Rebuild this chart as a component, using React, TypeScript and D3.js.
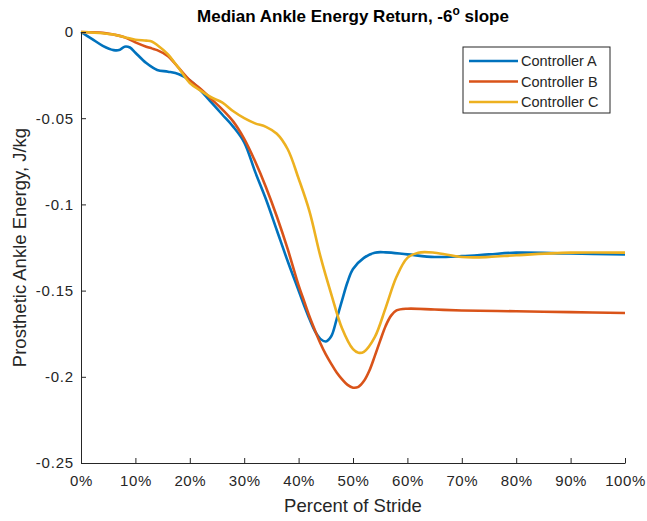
import React, { useEffect, useRef } from 'react'
import * as d3 from 'd3'

// percent of stride for each series sample
const strideA = [0, 2, 4, 6, 7, 8, 9, 10, 12, 14, 16, 18, 20, 22, 24, 26, 28, 30, 32, 34, 36, 38, 40, 41, 42, 43, 44, 45, 46, 47, 48, 49, 50, 52, 54, 56, 60, 65, 70, 75, 80, 90, 100]
const energyA = [0, -0.004, -0.008, -0.0105, -0.0105, -0.0085, -0.009, -0.012, -0.018, -0.022, -0.023, -0.0245, -0.028, -0.034, -0.041, -0.048, -0.055, -0.064, -0.081, -0.097, -0.115, -0.133, -0.15, -0.1585, -0.1665, -0.1735, -0.178, -0.1795, -0.1765, -0.1665, -0.1555, -0.145, -0.1375, -0.131, -0.128, -0.1278, -0.129, -0.1305, -0.13, -0.129, -0.128, -0.1285, -0.129]

const strideB = [0, 4, 6, 8, 10, 12, 13, 14, 16, 18, 20, 22, 24, 26, 28, 30, 32, 34, 36, 38, 40, 41, 42, 43, 44, 45, 46, 47, 48, 49, 50, 51, 52, 53, 54, 55, 56, 57, 58, 60, 65, 70, 80, 90, 100]
const energyB = [0, -0.0005, -0.0015, -0.003, -0.006, -0.0085, -0.0095, -0.0105, -0.014, -0.021, -0.028, -0.033, -0.039, -0.045, -0.052, -0.062, -0.075, -0.09, -0.107, -0.126, -0.147, -0.156, -0.165, -0.173, -0.1805, -0.187, -0.1925, -0.1975, -0.2015, -0.2047, -0.2063, -0.2058, -0.2025, -0.1965, -0.188, -0.179, -0.1705, -0.1645, -0.1615, -0.1605, -0.161, -0.1615, -0.162, -0.1625, -0.163]

const strideC = [0, 4, 6, 8, 10, 12, 13, 14, 16, 17, 18, 20, 22, 24, 26, 28, 30, 32, 34, 36, 38, 40, 42, 44, 46, 48, 50, 51, 52, 54, 56, 58, 60, 62, 65, 70, 75, 80, 90, 100]
const energyC = [0, -0.0007, -0.0015, -0.003, -0.0045, -0.005, -0.0055, -0.0075, -0.013, -0.017, -0.021, -0.0296, -0.034, -0.038, -0.041, -0.046, -0.05, -0.053, -0.055, -0.059, -0.068, -0.085, -0.104, -0.13, -0.152, -0.172, -0.184, -0.186, -0.1855, -0.177, -0.16, -0.142, -0.131, -0.128, -0.128, -0.1305, -0.1305, -0.1295, -0.128, -0.128]

const seriesNames = ['Controller A', 'Controller B', 'Controller C']
const seriesColors = ['#0072BD', '#D95319', '#EDB120']
const xTicks = [0, 10, 20, 30, 40, 50, 60, 70, 80, 90, 100]
const yTicks = [0, -0.05, -0.1, -0.15, -0.2, -0.25]

const App = () => {
  const ref = useRef<SVGSVGElement>(null)

  useEffect(() => {
    const svg = d3.select(ref.current)
    svg.selectAll('*').remove()

    const ink = '#262626'
    const font = '"Liberation Sans", Arial, sans-serif'

    const x = d3.scaleLinear().domain([0, 100]).range([81, 625])
    const y = d3.scaleLinear().domain([-0.25, 0]).range([463, 32])

    const series = [
      strideA.map((s, i) => [s, energyA[i]]),
      strideB.map((s, i) => [s, energyB[i]]),
      strideC.map((s, i) => [s, energyC[i]]),
    ]

    const line = d3.line<number[]>()
      .x(d => x(d[0]))
      .y(d => y(d[1]))
      .curve(d3.curveCatmullRom.alpha(0.5))

    series.forEach((pts, i) => {
      svg.append('path')
        .attr('d', line(pts))
        .attr('fill', 'none')
        .attr('stroke', seriesColors[i])
        .attr('stroke-width', 2.6)
        .attr('stroke-linejoin', 'round')
    })

    // axes
    const xAxis = svg.append('g').attr('transform', `translate(0,${y(-0.25)})`)
      .call(d3.axisBottom(x).tickValues(xTicks).tickSizeInner(-5).tickSizeOuter(0).tickPadding(12).tickFormat(d => `${d}%`))
    const yAxis = svg.append('g').attr('transform', `translate(${x(0)},0)`)
      .call(d3.axisLeft(y).tickValues(yTicks).tickSizeInner(-5).tickSizeOuter(0).tickPadding(7).tickFormat(d => `${d}`))

    for (const g of [xAxis, yAxis]) {
      g.select('.domain').attr('stroke', ink)
      g.selectAll('.tick line').attr('stroke', ink)
      g.selectAll('.tick text').attr('fill', ink).style('font-family', font).style('font-size', '15px')
    }
    xAxis.selectAll('.tick text').style('letter-spacing', '0.6px')
    yAxis.selectAll('.tick text').style('letter-spacing', '0.8px')

    svg.append('text')
      .attr('x', 353).attr('y', 512)
      .attr('text-anchor', 'middle')
      .attr('fill', ink)
      .style('font-family', font).style('font-size', '18.5px')
      .text('Percent of Stride')

    svg.append('text')
      .attr('transform', `translate(26,${y(-0.125)}) rotate(-90)`)
      .attr('text-anchor', 'middle')
      .attr('fill', ink)
      .style('font-family', font).style('font-size', '18.5px')
      .text('Prosthetic Ankle Energy, J/kg')

    const title = svg.append('text')
      .attr('x', 353).attr('y', 22)
      .attr('text-anchor', 'middle')
      .attr('fill', '#000')
      .style('font-family', font).style('font-size', '17px').style('font-weight', 'bold')
    title.append('tspan').text('Median Ankle Energy Return, -6')
    title.append('tspan').attr('dy', -7).style('font-size', '12px').text('o')
    title.append('tspan').attr('dy', 7).text(' slope')

    // legend
    const legend = svg.append('g').attr('transform', 'translate(463,47)')
    legend.append('rect')
      .attr('width', 147).attr('height', 66)
      .attr('fill', '#fff').attr('stroke', ink).attr('stroke-width', 1)
    seriesNames.forEach((name, i) => {
      const yy = 14 + i * 20.5
      legend.append('line')
        .attr('x1', 6).attr('x2', 55).attr('y1', yy).attr('y2', yy)
        .attr('stroke', seriesColors[i]).attr('stroke-width', 2.6)
      legend.append('text')
        .attr('x', 58).attr('y', yy + 5)
        .attr('fill', ink)
        .style('font-family', font).style('font-size', '14.5px')
        .text(name)
    })
  }, [])

  return (
    <svg ref={ref} width={647} height={521} style={{ position: 'absolute', left: 0, top: 0, background: '#fff' }} />
  )
}

export default App
